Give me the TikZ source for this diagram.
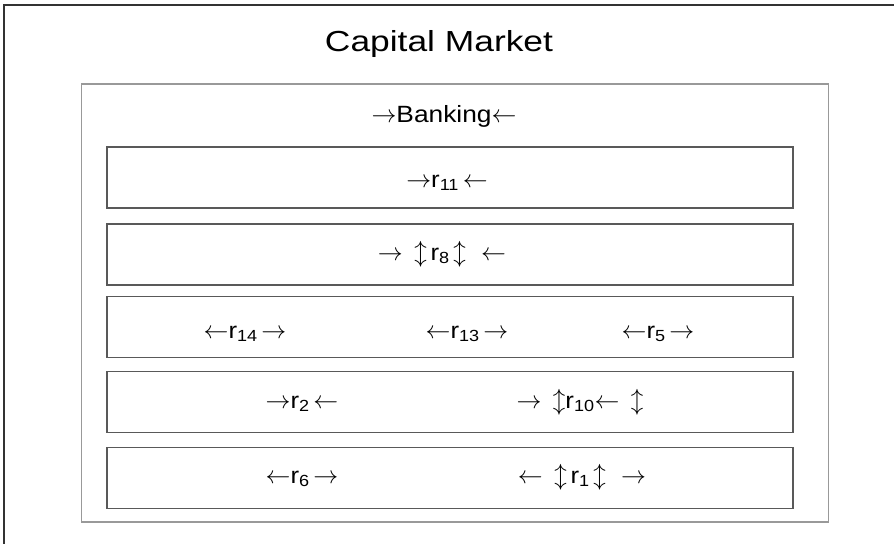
\documentclass[tikz,border=0pt]{standalone}
\usepackage{fontspec}
\setmainfont{Liberation Sans}
\newfontfamily\titlefont[FakeStretch=1.22]{Liberation Sans}
\newfontfamily\widefont[FakeStretch=1.12]{Liberation Sans}
\newcommand{\ra}{$\rightarrow$}
\newcommand{\la}{$\leftarrow$}
\newcommand{\ud}{$\updownarrow$}
\newcommand{\rr}[1]{r\textsubscript{#1}}
\begin{document}
\begin{tikzpicture}[x=1pt,y=-1pt,
  frameline/.style={draw=black!80,line width=1.6pt},
  graybox/.style={draw=black!40,line width=1.8pt,fill=none},
  rowbox/.style={draw=black!65,line width=1.8pt},
  lbl/.style={font=\widefont\fontsize{23}{26}\selectfont,inner sep=0pt,anchor=base}]
\useasboundingbox (0,0) rectangle (894,544);
\coordinate (tl) at (4,5);
\coordinate (tr) at (894,5);
\coordinate (bl) at (4,544);
\draw[frameline] (tr) -- (tl) -- (bl);
\node[graybox,minimum width=747pt,minimum height=438pt,anchor=north west,inner sep=0pt] (market) at (80.5,83) {};
\node[font=\titlefont\fontsize{29}{32}\selectfont,anchor=base,inner sep=0pt] (title) at (439,51) {Capital Market};
\node[lbl,font=\widefont\fontsize{23.5}{26}\selectfont] (banking) at (444,122) {\ra Banking\la};
\foreach \n/\yy in {b1/177.5,b2/254.5,b3/327,b4/402,b5/478}{
  \node[rowbox,minimum width=686pt,minimum height=61pt,inner sep=0pt] (\n) at (450,\yy) {};
}
\node[lbl] (r11) at (447,187) {\ra\rr{11}\,\la};
\node[lbl] (r8) at (442,260) {\ra\enspace\ud\,\rr{8}\,\ud\enspace\,\la};
\node[lbl] (r14) at (245,338) {\la\rr{14}\,\ra};
\node[lbl] (r13) at (467,338) {\la\rr{13}\,\ra};
\node[lbl] (r5) at (658,338) {\la\rr{5}\,\ra};
\node[lbl] (r2) at (302,408) {\ra\rr{2}\,\la};
\node[lbl] (r10) at (580,408) {\ra\enspace\ud\rr{10}\la\enspace\ud};
\node[lbl] (r6) at (302,483) {\la\rr{6}\,\ra};
\node[lbl] (r1) at (582,483) {\la\enspace\ud\,\rr{1}\,\ud\enspace\,\ra};
\end{tikzpicture}
\end{document}
